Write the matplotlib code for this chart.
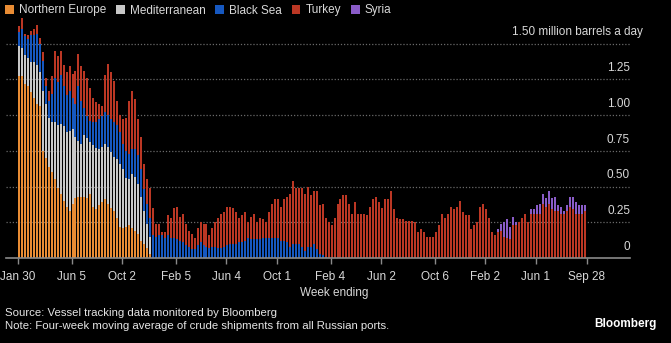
import numpy as np
import pandas as pd
import matplotlib.pyplot as plt

plt.rcParams['font.family'] = ['Liberation Sans', 'DejaVu Sans']

# weekly data, million barrels a day (4-week moving average)
weeks = pd.date_range('2022-01-30', periods=191, freq='7D')

north_europe = [
    1.27, 1.27, 1.22, 1.20, 1.16, 1.12, 1.08, 1.06, 0.75, 0.70,
    0.64, 0.60, 0.55, 0.49, 0.45, 0.40, 0.36, 0.33, 0.38, 0.42,
    0.43, 0.43, 0.43, 0.42, 0.45, 0.36, 0.34, 0.37, 0.39, 0.41,
    0.38, 0.35, 0.33, 0.28, 0.22, 0.21, 0.22, 0.23, 0.21, 0.19,
    0.17, 0.12, 0.10, 0.07, 0.03] + [0.0] * 146

mediterranean = [
    0.21, 0.20, 0.20, 0.20, 0.21, 0.25, 0.27, 0.24, 0.42, 0.38,
    0.34, 0.35, 0.40, 0.44, 0.49, 0.52, 0.52, 0.56, 0.52, 0.43,
    0.39, 0.37, 0.43, 0.42, 0.36, 0.43, 0.43, 0.39, 0.39, 0.39,
    0.40, 0.39, 0.38, 0.41, 0.44, 0.41, 0.34, 0.32, 0.38, 0.38,
    0.35, 0.31, 0.23, 0.17, 0.12] + [0.0] * 146

black_sea = [
    0.10, 0.13, 0.13, 0.13, 0.19, 0.19, 0.22, 0.20, 0.21, 0.12,
    0.12, 0.20, 0.31, 0.30, 0.34, 0.28, 0.26, 0.28, 0.22, 0.23,
    0.38, 0.30, 0.19, 0.15, 0.15, 0.16, 0.18, 0.21, 0.21, 0.22,
    0.22, 0.23, 0.24, 0.24, 0.22, 0.18, 0.19, 0.18, 0.17, 0.19,
    0.20, 0.19, 0.15, 0.14, 0.13,
    0.16, 0.15, 0.16, 0.16, 0.14, 0.16, 0.14, 0.14, 0.13, 0.12,
    0.11, 0.09, 0.08, 0.06, 0.06, 0.09, 0.11, 0.09, 0.08, 0.07,
    0.08, 0.08, 0.07, 0.07, 0.08, 0.09, 0.10, 0.10, 0.10, 0.11,
    0.11, 0.12, 0.14, 0.13, 0.13, 0.13, 0.13, 0.14, 0.14, 0.14,
    0.14, 0.14,
    0.14, 0.12, 0.12, 0.11, 0.08, 0.10, 0.10, 0.10, 0.08, 0.05,
    0.08, 0.08, 0.10, 0.06, 0.03, 0.02, 0.01] + [0.0] * 87

turkey = [
    0.04, 0.08, 0.02, 0.03, 0.03, 0.04, 0.06, 0.04, 0.06, 0.06,
    0.07, 0.12, 0.19, 0.18, 0.17, 0.15, 0.16, 0.17, 0.17, 0.23,
    0.23, 0.24, 0.26, 0.27, 0.23, 0.17, 0.14, 0.11, 0.07, 0.26,
    0.36, 0.33, 0.29, 0.17, 0.12, 0.17, 0.23, 0.37, 0.41, 0.35,
    0.25, 0.23, 0.18, 0.17, 0.21, 0.19,
    0.09, 0.08, 0.02, 0.04, 0.14, 0.14, 0.21, 0.23, 0.17, 0.20,
    0.15, 0.11, 0.11, 0.08, 0.12, 0.14, 0.15, 0.16, 0.09, 0.13,
    0.17, 0.21, 0.24, 0.24, 0.27, 0.26, 0.25, 0.22, 0.17, 0.19,
    0.20, 0.11, 0.16, 0.18, 0.12, 0.15, 0.13, 0.11, 0.18, 0.24,
    0.27,
    0.27, 0.24, 0.29, 0.32, 0.37, 0.44, 0.39, 0.39, 0.41, 0.40,
    0.42, 0.36, 0.37, 0.41, 0.34, 0.36, 0.27, 0.25, 0.23, 0.28,
    0.38, 0.41, 0.44, 0.44, 0.38, 0.31, 0.39, 0.31, 0.31, 0.31,
    0.30, 0.36, 0.41, 0.43, 0.39, 0.35, 0.41, 0.41, 0.47, 0.34,
    0.28, 0.27, 0.27,
    0.26, 0.26, 0.26, 0.25, 0.18, 0.20, 0.18, 0.15, 0.15, 0.15,
    0.18, 0.23, 0.31, 0.28, 0.31, 0.36, 0.34, 0.36, 0.40, 0.32,
    0.30, 0.30, 0.20, 0.23, 0.25, 0.36, 0.38, 0.34, 0.28, 0.18,
    0.16,
    0.18, 0.19, 0.15, 0.14, 0.13, 0.23, 0.23, 0.25, 0.28, 0.31,
    0.25, 0.31, 0.31, 0.31, 0.31, 0.38, 0.36, 0.38, 0.34, 0.33,
    0.33, 0.31, 0.31, 0.33, 0.36, 0.34, 0.31, 0.31, 0.31, 0.33]

syria = [0.0] * 161 + [
    0.02, 0.05, 0.10, 0.13, 0.09, 0.06, 0.02, 0.00, 0.00, 0.00,
    0.00, 0.03, 0.03, 0.06, 0.07, 0.07, 0.06, 0.09, 0.08, 0.10,
    0.04, 0.05, 0.02, 0.04, 0.07, 0.09, 0.08, 0.06, 0.06, 0.04]

series = [
    ('Northern Europe', north_europe, '#e98c34'),
    ('Mediterranean', mediterranean, '#c8c8c8'),
    ('Black Sea', black_sea, '#1658c0'),
    ('Turkey', turkey, '#bb3724'),
    ('Syria', syria, '#8a5cc8'),
]

tick_dates = pd.to_datetime(['2022-01-30', '2022-06-05', '2022-10-02', '2023-02-05',
                             '2023-06-04', '2023-10-01', '2024-02-04', '2024-06-02',
                             '2024-10-06', '2025-02-02', '2025-06-01', '2025-09-28'])
tick_labels = ['Jan 30', 'Jun 5', 'Oct 2', 'Feb 5', 'Jun 4', 'Oct 1',
               'Feb 4', 'Jun 2', 'Oct 6', 'Feb 2', 'Jun 1', 'Sep 28']
y_ticks = [0, 0.25, 0.5, 0.75, 1.0, 1.25, 1.5]
y_labels = ['0', '0.25', '0.50', '0.75', '1.00', '1.25', '1.50 million barrels a day']

W, H = 671, 343
fig = plt.figure(figsize=(W / 100, H / 100), dpi=100, facecolor='black')
ax = fig.add_axes([6 / W, 1 - 258 / H, 624 / W, 243 / H])
ax.set_facecolor('black')

bottom = np.zeros(len(weeks))
for name, vals, color in series:
    ax.bar(weeks, vals, width=4.7, bottom=bottom, align='edge',
           color=color, label=name, linewidth=0)
    bottom += np.array(vals)

ax.set_xlim(pd.Timestamp('2022-01-02'), pd.Timestamp('2026-01-08'))
ax.set_ylim(0, 1.70)

ax.set_yticks(y_ticks[1:])
ax.yaxis.grid(True, color='#6a6a6a', linestyle=(0, (1, 1.5)), linewidth=0.9)
ax.set_axisbelow(True)
ax.tick_params(axis='y', length=0, labelleft=False)

for v, lbl in zip(y_ticks, y_labels):
    x = 1.0 if v < 1.5 else (643 - 6) / 624
    ax.annotate(lbl, xy=(x, v), xycoords=('axes fraction', 'data'),
                xytext=(0, 8), textcoords='offset points',
                ha='right', va='center', color='#d8d8d8', fontsize=8.5,
                annotation_clip=False)

ax.set_xticks(tick_dates)
ax.set_xticklabels(tick_labels)
ax.tick_params(axis='x', colors='#8a8a8a', length=4, width=1, pad=5.5,
               labelcolor='#d8d8d8', labelsize=8.5)

for s in ['top', 'left', 'right']:
    ax.spines[s].set_visible(False)
ax.spines['bottom'].set_color('#8a8a8a')
ax.spines['bottom'].set_linewidth(1.2)

fig.legend(loc='upper left', bbox_to_anchor=(5 / W, 1 - 4.5 / H), ncol=5,
           frameon=False, fontsize=8.5, labelcolor='#d8d8d8',
           handlelength=0.75, handleheight=0.75, handletextpad=0.45,
           columnspacing=0.8, borderpad=0, borderaxespad=0)

fig.text(334 / W, 1 - 293 / H, 'Week ending', ha='center', va='center',
         color='#d8d8d8', fontsize=8.5)
fig.text(5 / W, 1 - 313 / H, 'Source: Vessel tracking data monitored by Bloomberg',
         ha='left', va='center', color='#e6e6e6', fontsize=8.2)
fig.text(5 / W, 1 - 326 / H,
         'Note: Four-week moving average of crude shipments from all Russian ports.',
         ha='left', va='center', color='#e6e6e6', fontsize=8.2)
fig.text(657 / W, 1 - 324 / H, 'Bloomberg', ha='right', va='center',
         color='white', fontsize=8.5, fontweight='bold')

fig.savefig('out.png', dpi=100, facecolor='black')
